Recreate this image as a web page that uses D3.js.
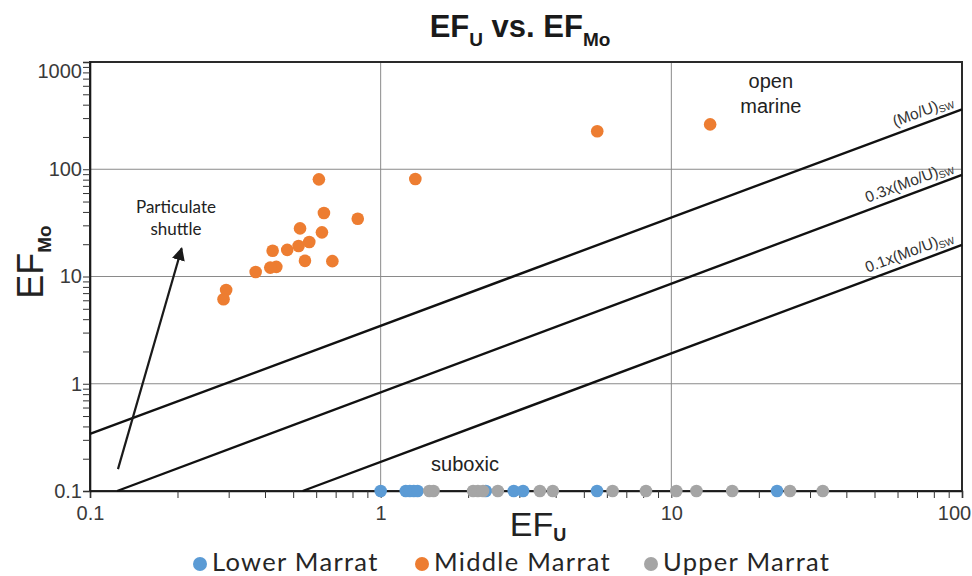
<!DOCTYPE html>
<html>
<head>
<meta charset="utf-8">
<script src="https://cdn.jsdelivr.net/npm/d3@7"></script>
<style>
  html, body { margin: 0; padding: 0; background: #fff; }
  svg { display: block; }
</style>
</head>
<body>
<svg id="chart" width="972" height="576"></svg>
<script>
// ---------------- data ----------------
const seriesNames = ["Lower Marrat", "Middle Marrat", "Upper Marrat"];
const seriesColors = ["#5B9BD5", "#ED7D31", "#A5A5A5"];

const lowerU  = [1.0, 1.22, 1.26, 1.30, 1.34, 2.30, 2.87, 3.09, 5.55, 23.1];
const lowerMo = [0.1, 0.1, 0.1, 0.1, 0.1, 0.1, 0.1, 0.1, 0.1, 0.1];

const middleU  = [0.613, 0.638, 0.834, 0.528, 0.628, 0.568, 0.522, 0.477, 0.425, 0.549,
                  0.682, 0.4375, 0.417, 0.3715, 0.294, 0.288, 1.316, 5.56, 13.6];
const middleMo = [80.5, 39.1, 34.6, 28.1, 25.8, 21.0, 19.25, 17.7, 17.4, 14.0,
                  13.9, 12.3, 12.1, 11.0, 7.48, 6.13, 81.1, 226, 262];

const upperU  = [1.47, 1.52, 2.08, 2.16, 2.25, 2.53, 3.53, 3.91, 6.28, 8.18,
                 10.4, 12.2, 16.2, 25.6, 33.2];
const upperMo = [0.1, 0.1, 0.1, 0.1, 0.1, 0.1, 0.1, 0.1, 0.1, 0.1,
                 0.1, 0.1, 0.1, 0.1, 0.1];

// reference lines (EF_U, EF_Mo endpoints)
const refLabels = ["(Mo/U)", "0.3x(Mo/U)", "0.1x(Mo/U)"];
const refStartU  = [0.1, 0.124, 0.539];
const refStartMo = [0.34, 0.1, 0.1];
const refEndU    = [100, 100, 100];
const refEndMo   = [362, 88.4, 19.7];

const xTickLabels = ["0.1", "1", "10", "100"];
const yTickLabels = ["0.1", "1", "10", "100", "1000"];

// annotations (data coordinates)
const arrowFrom = [0.1248, 0.160];
const arrowTo   = [0.2067, 18.3];

// ---------------- chart ----------------
const svg = d3.select("#chart");
const L = 90, R = 962, T = 62, B = 491;

const x = d3.scaleLog().domain([0.1, 100]).range([L, R]);
const y = d3.scaleLog().domain([0.1, 1000]).range([B, T]);

const sansFont = "'Liberation Sans', Arial, sans-serif";
const humanist = "Lato, 'Open Sans', sans-serif";

// minor/major tick values
const xTicks = [];
[0.1, 1, 10].forEach(d => { for (let k = 1; k <= 9; k++) xTicks.push(+(d * k).toPrecision(3)); });
xTicks.push(100);
const yTicks = [];
[0.1, 1, 10, 100].forEach(d => { for (let k = 1; k <= 9; k++) yTicks.push(+(d * k).toPrecision(3)); });
yTicks.push(1000);

// gridlines
const gGrid = svg.append("g");
gGrid.selectAll("line.vx").data(xTickLabels.map(Number).filter(v => v > 0.1 && v < 100))
  .enter().append("line")
  .attr("x1", d => x(d)).attr("x2", d => x(d))
  .attr("y1", T).attr("y2", B)
  .attr("stroke", "#8a8a8a").attr("stroke-width", 1);
gGrid.selectAll("line.hy").data(yTickLabels.map(Number).filter(v => v > 0.1 && v < 1000))
  .enter().append("line")
  .attr("x1", L).attr("x2", R)
  .attr("y1", d => y(d)).attr("y2", d => y(d))
  .attr("stroke", "#8a8a8a").attr("stroke-width", 1);

// frame
svg.append("rect").attr("x", L).attr("y", T).attr("width", R - L).attr("height", B - T)
  .attr("fill", "none").attr("stroke", "#2a2a2a").attr("stroke-width", 2);

// axes
const xAxis = d3.axisBottom(x).tickValues(xTicks).tickSize(7)
  .tickFormat(d => xTickLabels.includes(String(d)) ? String(d) : "");
const yAxis = d3.axisLeft(y).tickValues(yTicks).tickSize(7)
  .tickFormat(d => yTickLabels.includes(String(d)) ? String(d) : "");

const gx = svg.append("g").attr("transform", `translate(0,${B})`).call(xAxis);
gx.select(".domain").attr("stroke", "#1a1a1a").attr("stroke-width", 1.6);
gx.selectAll(".tick line").attr("stroke", "#333").attr("stroke-width", 1);
gx.selectAll(".tick text").attr("font-family", sansFont).attr("font-size", 20)
  .attr("fill", "#3a3a3a").attr("dy", "0.95em");
gx.selectAll(".tick text").filter(d => d === 100).attr("dx", -8);

const gy = svg.append("g").attr("transform", `translate(${L},0)`).call(yAxis);
gy.select(".domain").attr("stroke", "#1a1a1a").attr("stroke-width", 1.6);
gy.selectAll(".tick line").attr("stroke", "#333").attr("stroke-width", 1);
gy.selectAll(".tick text").attr("font-family", sansFont).attr("font-size", 20)
  .attr("fill", "#3a3a3a").attr("x", -8);
gy.selectAll(".tick text").filter(d => d === 1000).attr("dy", "0.75em");

// reference lines
const gRef = svg.append("g");
refLabels.forEach((lab, i) => {
  const x1 = x(refStartU[i]), y1 = y(refStartMo[i]);
  const x2 = x(refEndU[i]), y2 = y(refEndMo[i]);
  gRef.append("line").attr("x1", x1).attr("y1", y1).attr("x2", x2).attr("y2", y2)
    .attr("stroke", "#111").attr("stroke-width", 2.4);
  const ang = Math.atan2(y2 - y1, x2 - x1) * 180 / Math.PI;
  const lx = x(96);
  const ly = y1 + (y2 - y1) * (lx - x1) / (x2 - x1);
  const t = gRef.append("text")
    .attr("transform", `translate(${lx},${ly}) rotate(${ang})`)
    .attr("y", -7)
    .attr("text-anchor", "end")
    .attr("font-family", sansFont).attr("font-size", 15.5).attr("fill", "#333");
  t.append("tspan").text(lab);
  t.append("tspan").attr("font-size", 10).attr("dy", 3).text("SW");
});

// arrow
const defs = svg.append("defs");
defs.append("marker").attr("id", "ah").attr("viewBox", "0 0 10 10")
  .attr("refX", 9).attr("refY", 5).attr("markerWidth", 6).attr("markerHeight", 7)
  .attr("markerUnits", "strokeWidth")
  .attr("orient", "auto")
  .append("path").attr("d", "M0,0 L10,5 L0,10 Z").attr("fill", "#1a1a1a");
svg.append("line")
  .attr("x1", x(arrowFrom[0])).attr("y1", y(arrowFrom[1]))
  .attr("x2", x(arrowTo[0])).attr("y2", y(arrowTo[1]))
  .attr("stroke", "#1a1a1a").attr("stroke-width", 2.2)
  .attr("marker-end", "url(#ah)");

// points
const series = [
  { u: lowerU, mo: lowerMo },
  { u: middleU, mo: middleMo },
  { u: upperU, mo: upperMo }
];
series.forEach((s, i) => {
  svg.append("g").selectAll("circle")
    .data(s.u.map((u, j) => [u, s.mo[j]]))
    .enter().append("circle")
    .attr("cx", d => x(d[0])).attr("cy", d => y(d[1]))
    .attr("r", 6.3)
    .attr("fill", seriesColors[i]);
});

// annotations
svg.append("text").attr("x", x(22.0)).attr("y", y(572)).attr("text-anchor", "middle")
  .attr("font-family", sansFont).attr("font-size", 20).attr("fill", "#222").text("open");
svg.append("text").attr("x", x(22.0)).attr("y", y(334)).attr("text-anchor", "middle")
  .attr("font-family", sansFont).attr("font-size", 20).attr("fill", "#222").text("marine");
svg.append("text").attr("x", x(1.95)).attr("y", y(0.1536)).attr("text-anchor", "middle")
  .attr("font-family", sansFont).attr("font-size", 20).attr("fill", "#222").text("suboxic");
svg.append("text").attr("x", x(0.1976)).attr("y", y(39.1)).attr("text-anchor", "middle")
  .attr("font-family", humanist).attr("font-size", 17).attr("fill", "#222").text("Particulate");
svg.append("text").attr("x", x(0.1976)).attr("y", y(24.4)).attr("text-anchor", "middle")
  .attr("font-family", humanist).attr("font-size", 17).attr("fill", "#222").text("shuttle");

// title
const title = svg.append("text").attr("x", 520).attr("y", 37).attr("text-anchor", "middle")
  .attr("font-family", sansFont)
  .attr("font-weight", "bold").attr("font-size", 31).attr("fill", "#1a1a1a");
title.append("tspan").text("EF");
title.append("tspan").attr("font-size", 19).attr("dy", 9).text("U");
title.append("tspan").attr("dy", -9).text(" vs. EF");
title.append("tspan").attr("font-size", 19).attr("dy", 9).text("Mo");

// x axis title
const xt = svg.append("text").attr("x", 538).attr("y", 536).attr("text-anchor", "middle")
  .attr("font-family", sansFont).attr("font-size", 34).attr("fill", "#222");
xt.append("tspan").text("EF");
xt.append("tspan").attr("font-size", 18).attr("font-weight", "bold").attr("dy", 5).text("U");

// y axis title
const yt = svg.append("text").attr("transform", "translate(43,262) rotate(-90)")
  .attr("text-anchor", "middle")
  .attr("font-family", sansFont).attr("font-size", 36).attr("fill", "#222");
yt.append("tspan").text("EF");
yt.append("tspan").attr("font-size", 19).attr("font-weight", "bold").attr("dy", 8).text("Mo");

// legend
const legendX = [200, 422, 651];
const lg = svg.append("g");
seriesNames.forEach((n, i) => {
  lg.append("circle").attr("cx", legendX[i]).attr("cy", 564).attr("r", 7).attr("fill", seriesColors[i]);
  lg.append("text").attr("x", legendX[i] + 12).attr("y", 571)
    .attr("font-family", humanist).attr("font-size", 25.5).attr("letter-spacing", 1.3)
    .attr("fill", "#262626").text(n);
});
</script>
</body>
</html>
